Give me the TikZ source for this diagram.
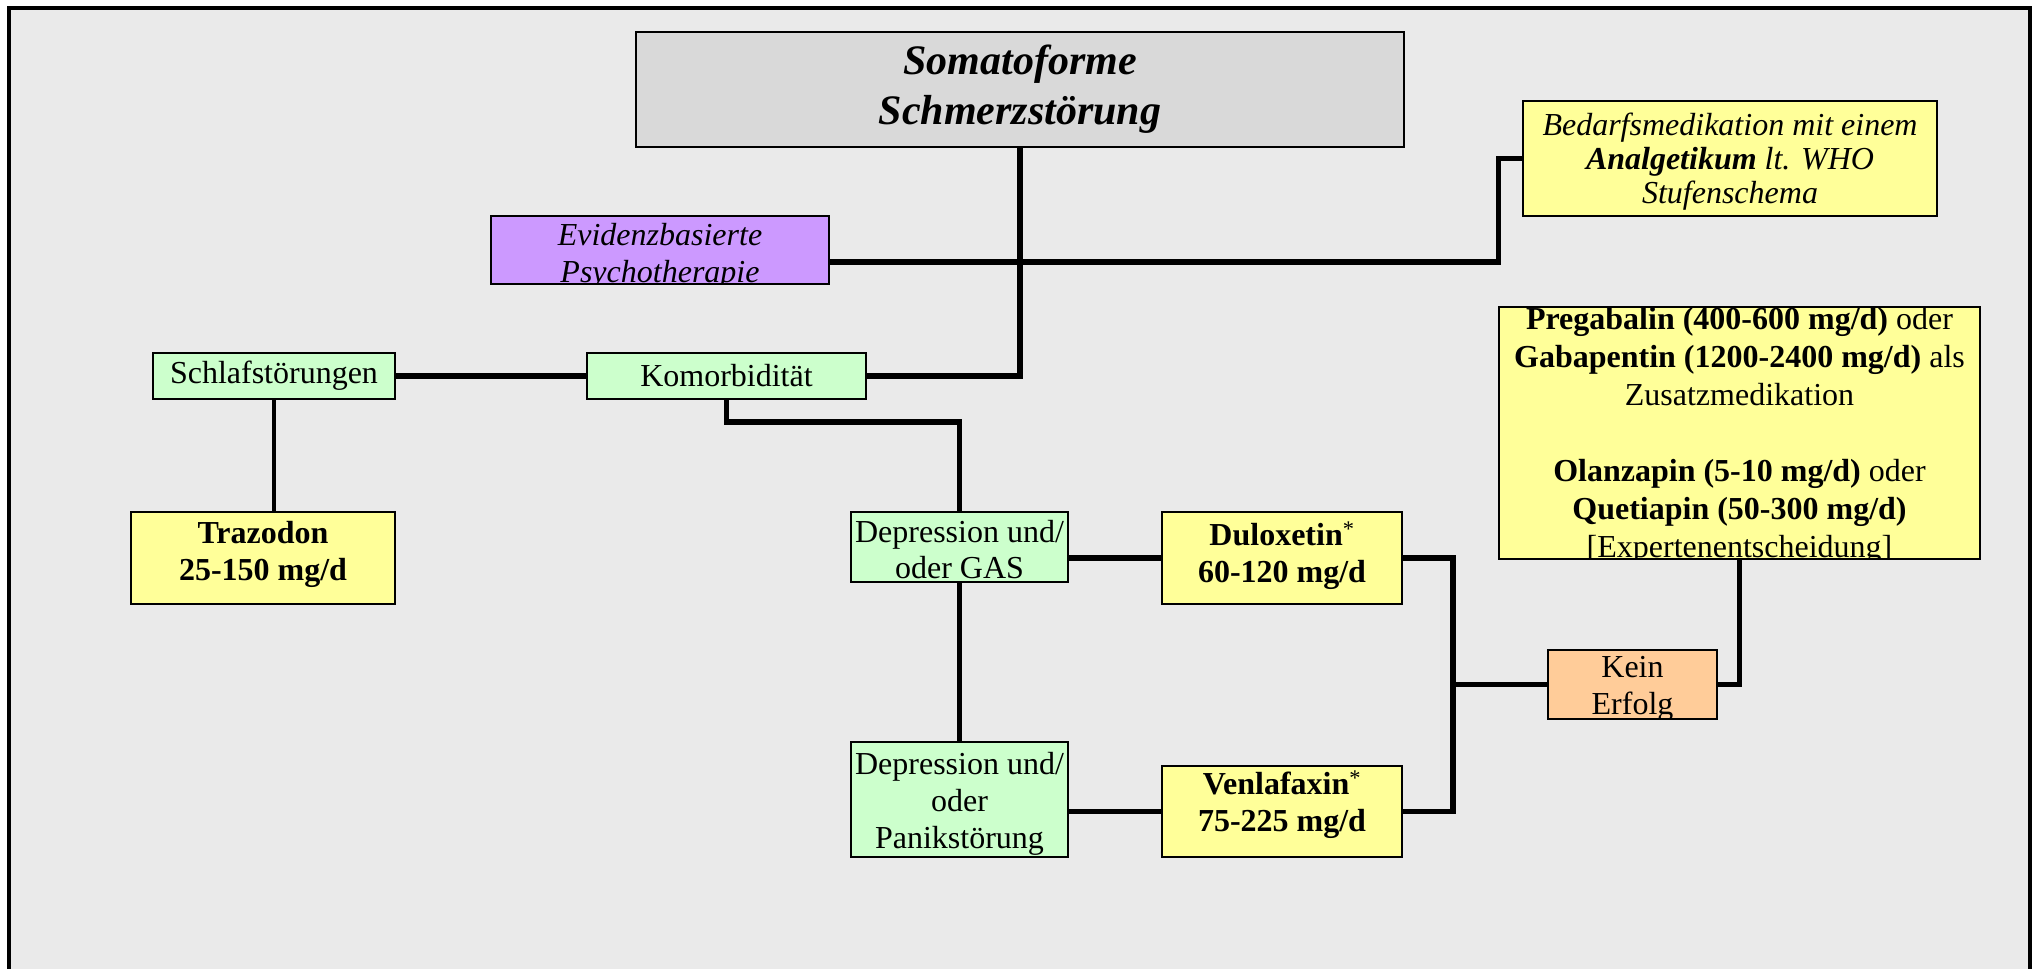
\documentclass[tikz,border=0pt]{standalone}
\usepackage{fontspec}
\setmainfont{Liberation Serif}
\usepackage{xcolor}
\usepackage{tikz}

\definecolor{grund}{HTML}{EAEAEA}
\definecolor{titelgrau}{HTML}{D9D9D9}
\definecolor{gelb}{HTML}{FFFF99}
\definecolor{gruen}{HTML}{CCFFCC}
\definecolor{lila}{HTML}{CC99FF}
\definecolor{pfirsich}{HTML}{FFCC99}

\newcommand{\boxfont}{\fontsize{32}{37}\selectfont}
\newcommand{\titelfont}{\fontsize{42}{50}\selectfont\bfseries\itshape}

\begin{document}
\begin{tikzpicture}[x=1pt, y=-1pt,
		box/.style={draw=black, line width=1.5pt, inner sep=0pt},
		txt/.style n args={3}{path picture={\node[font=#1, align=center] at ([yshift=#2]path picture bounding box.center) {#3};}},
		con/.style={line width=5.5pt},
		senk/.style={line width=4.5pt}]
				\useasboundingbox (0,0) rectangle (2038,969);
				\fill[white] (0,0) rectangle (2038,969);
				\clip (0,0) rectangle (2038,969);
				\draw[line width=4pt, fill=grund] (9,8) rectangle (2030,1010);

				% Kaesten
				\node[box, fill=titelgrau, minimum width=768pt, minimum height=115pt,
					txt={\titelfont}{0.5pt}{Somatoforme\\Schmerzstörung}] (somato) at (1020,89.5) {};
				\node[box, fill=gelb, minimum width=414pt, minimum height=115pt,
					txt={\fontsize{32}{34}\selectfont\itshape}{-3pt}{Bedarfsmedikation mit einem\\\textbf{Analgetikum} lt. WHO\\Stufenschema}] (bedarf) at (1730,158.5) {};
				\node[box, fill=lila, minimum width=338pt, minimum height=68pt,
					txt={\boxfont\itshape}{-6.5pt}{Evidenzbasierte\\Psychotherapie}] (evid) at (660,250) {};
				\node[box, fill=gruen, minimum width=279pt, minimum height=46pt,
					txt={\boxfont}{0pt}{Komorbidität}] (komorb) at (726.5,376) {};
				\node[box, fill=gruen, minimum width=242pt, minimum height=46pt,
					txt={\boxfont}{0pt}{Schlafstörungen}] (schlaf) at (274,376) {};
				\node[box, fill=gelb, minimum width=264pt, minimum height=92pt,
					txt={\boxfont\bfseries}{4pt}{Trazodon\\25-150 mg/d}] (traz) at (263,558) {};
				\node[box, fill=gruen, minimum width=217pt, minimum height=70pt,
					txt={\fontsize{32}{36}\selectfont}{-3pt}{Depression und/\\oder GAS}] (depgas) at (959.5,547) {};
				\node[box, fill=gruen, minimum width=217pt, minimum height=115pt,
					txt={\boxfont}{-4.5pt}{Depression und/\\oder\\Panikstörung}] (deppanik) at (959.5,799.5) {};
				\node[box, fill=gelb, minimum width=240pt, minimum height=92pt,
					txt={\boxfont\bfseries}{2pt}{Duloxetin\textsuperscript{\mdseries*}\\60-120 mg/d}] (dulox) at (1282,558) {};
				\node[box, fill=gelb, minimum width=240pt, minimum height=91pt,
					txt={\boxfont\bfseries}{7pt}{Venlafaxin\textsuperscript{\mdseries*}\\75-225 mg/d}] (venla) at (1282,811.5) {};
				\node[box, fill=pfirsich, minimum width=169pt, minimum height=69pt,
					txt={\boxfont}{-4.5pt}{Kein\\Erfolg}] (kein) at (1632.5,684.5) {};
				\node[box, fill=gelb, minimum width=481pt, minimum height=252pt,
					txt={\fontsize{32}{38}\selectfont}{-3pt}{\textbf{Pregabalin (400-600 mg/d)} oder\\\textbf{Gabapentin (1200-2400 mg/d)} als\\Zusatzmedikation\\[38pt]\textbf{Olanzapin (5-10 mg/d)} oder\\\textbf{Quetiapin (50-300 mg/d)}\\{[}Expertenentscheidung{]}}] (pregab) at (1739.5,433) {};

				% Verbindungen
				\draw[con] (komorb.east) -| (somato.south);
				\draw[con] ([yshift=-12pt]evid.east) -| ([xshift=-24pt]bedarf.west) -- (bedarf.west);
				\draw[con] (schlaf) -- (komorb);
				\draw[senk] (schlaf.south) -- (schlaf.south |- traz.north);
				\draw[con] (komorb.south) -- ++(0,22) -| (depgas.north);
				\draw[senk] (depgas) -- (deppanik);
				\draw[con] (dulox.west -| depgas.east) -- (dulox.west);
				\draw[con] (venla.west -| deppanik.east) -- (venla.west);
				\coordinate (gabel) at ([xshift=50pt]dulox.east);
				\draw[con] (dulox.east) -- (gabel) |- (venla.east);
				\draw[con] (kein.west) -- (kein.west -| gabel);
				\draw[con] (kein.east) -| (pregab.south);
\end{tikzpicture}
\end{document}
